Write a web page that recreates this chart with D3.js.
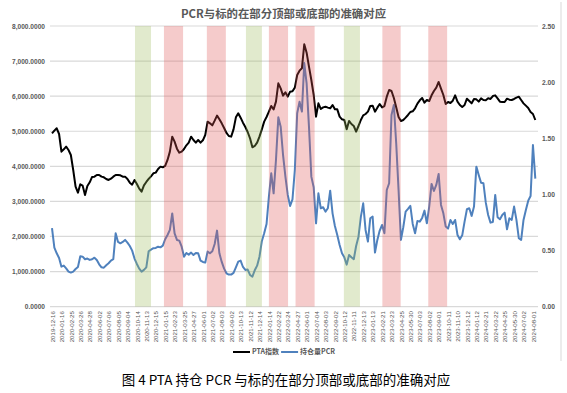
<!DOCTYPE html>
<html><head><meta charset="utf-8">
<script src="https://cdn.jsdelivr.net/npm/d3@7/dist/d3.min.js"></script>
<style>body{margin:0;background:#fff}svg{display:block}</style>
</head><body><div id="chart"></div>
<script>
const titleText = "PCR与标的在部分顶部或底部的准确对应";
const captionText = "图 4 PTA 持仓 PCR 与标的在部分顶部或底部的准确对应";
const seriesNames = ["PTA指数", "持仓量PCR"];

const tickDates = ["2019-12-16","2020-01-16","2020-02-25","2020-03-26","2020-04-28","2020-06-02","2020-07-06","2020-08-05","2020-09-04","2020-10-14","2020-11-13","2020-12-15","2021-01-15","2021-02-23","2021-03-25","2021-04-27","2021-06-01","2021-07-02","2021-08-03","2021-09-02","2021-10-13","2021-11-12","2021-12-14","2022-01-14","2022-02-22","2022-03-24","2022-04-27","2022-06-01","2022-07-04","2022-08-03","2022-09-02","2022-10-12","2022-11-11","2022-12-13","2023-01-13","2023-02-21","2023-03-23","2023-04-25","2023-05-30","2023-07-03","2023-08-02","2023-09-01","2023-10-11","2023-11-10","2023-12-12","2024-01-12","2024-02-21","2024-03-22","2024-04-25","2024-05-30","2024-07-02","2024-08-01"];

// samples: 4 readings per tick-label interval
const samplesPerLabel = 4;

const ptaIndex = [
4940,5016,5083,4921,4418,4484,4560,4465,4323,3895,
3420,3249,3487,3449,3183,3439,3544,3696,3705,3753,
3753,3705,3686,3639,3610,3648,3705,3753,3753,3743,
3705,3705,3639,3534,3477,3610,3496,3363,3278,3458,
3553,3639,3715,3800,3819,3924,3990,3971,4009,4180,
4418,4845,4703,4503,4389,4418,4494,4598,4674,4845,
4750,4674,4750,4674,4741,4893,5273,
5225,5168,5301,5444,5339,5225,5092,4950,4864,4845,
5054,5396,5510,5387,5244,5121,4978,4798,4541,4579,
4674,4845,5054,5273,5406,5558,5719,5624,5843,6366,
6223,6014,6109,5986,6128,6138,6242,6603,6727,6793,
7480,7240,6841,6461,6033,5415,5795,5634,5681,5700,
5672,5653,5748,5624,5624,5415,5339,5320,5054,5292,
5206,5149,4988,5149,
5320,5453,5491,5558,
5719,5729,5558,5672,5776,5681,5719,5985,6176,6147,
5948,5681,5406,5292,5320,5387,5463,5548,5567,5653,
5786,5881,5947,5814,5890,5862,6023,6147,6242,6404,
6214,6033,5776,5834,5805,5871,6023,5843,5748,5691,
5748,5928,5862,5795,5919,5909,5843,5938,5890,5881,
5938,5919,6004,6023,5938,5843,5834,5834,5928,5900,
5890,5919,5957,5985,5890,5795,5729,5662,5548,5491,5320];

const pcr = [
0.70,0.526,0.475,0.433,0.356,0.365,0.341,0.312,0.303,0.312,
0.335,0.353,0.448,0.445,0.422,0.428,0.416,0.422,0.436,0.416,
0.377,0.350,0.347,0.368,0.386,0.410,0.422,0.653,0.576,0.564,
0.576,0.594,0.570,0.540,0.499,0.428,0.380,0.338,0.312,0.327,
0.350,0.493,0.508,0.520,0.523,0.534,0.528,0.543,0.600,0.638,
0.683,0.830,0.653,0.594,0.588,0.534,0.445,0.478,0.463,0.481,
0.460,0.478,0.475,0.410,0.398,0.392,0.490,
0.475,0.493,0.558,0.677,0.475,0.398,0.338,0.297,0.285,0.285,
0.300,0.350,0.401,0.410,0.353,0.327,0.330,0.282,0.267,0.324,
0.365,0.445,0.582,0.653,0.736,0.980,1.188,1.009,1.306,1.686,
1.603,1.351,1.158,0.995,0.897,0.956,1.217,1.722,1.826,1.737,
2.170,1.989,1.603,1.158,1.063,0.742,1.009,0.876,0.885,0.846,
0.876,1.033,0.831,0.718,0.638,0.549,0.475,0.439,0.374,0.460,
0.439,0.422,0.540,0.623,
0.800,0.920,0.683,0.579,
0.787,0.802,0.481,0.594,0.677,0.727,0.653,1.039,1.099,1.707,
1.796,1.455,1.039,0.594,0.707,0.846,0.870,0.897,0.736,0.653,
0.763,0.757,0.790,0.855,0.742,0.891,1.093,1.030,1.084,1.182,
0.906,0.831,0.713,0.695,0.772,0.736,0.772,0.638,0.600,0.635,
0.757,0.867,0.876,0.808,0.891,1.247,1.173,1.104,1.099,0.926,
0.816,0.748,0.754,0.995,0.796,0.778,0.816,0.837,0.689,0.787,
0.772,0.891,0.772,0.609,0.594,0.772,0.861,0.944,0.986,1.440,1.140];

const redBands = [["2021-01-11","2021-03-22"],["2021-06-14","2021-08-16"],["2022-01-14","2022-03-25"],["2022-04-21","2022-06-29"],["2023-02-22","2023-04-24"],["2023-07-30","2023-10-07"]];
const greenBands = [["2020-10-06","2020-11-29"],["2021-10-30","2021-12-22"],["2022-10-10","2022-12-02"]];

const leftTicks = [0,1000,2000,3000,4000,5000,6000,7000,8000];
const rightTicks = [0,0.5,1,1.5,2,2.5];

// ---------- drawing ----------
const W = 567, H = 393;
const plot = {left: 50, right: 538, top: 26, bottom: 306.6};
const latin = "'Liberation Sans', Arial, 'Noto Sans CJK SC', sans-serif";
const cjk = "'Noto Sans CJK SC', 'Liberation Sans', sans-serif";
const grey = "#595959";

const svg = d3.select("#chart").append("svg").attr("width", W).attr("height", H);
svg.append("rect").attr("width", W).attr("height", H).attr("fill", "#fff");

const n = ptaIndex.length;
const x = d3.scaleLinear().domain([0, n - 1]).range([plot.left + 2, plot.right - 2.7]);
const yL = d3.scaleLinear().domain([0, 8000]).range([plot.bottom, plot.top]);
const yR = d3.scaleLinear().domain([0, 2.5]).range([plot.bottom, plot.top]);

// gridlines
svg.append("g").selectAll("line").data(leftTicks).join("line")
  .attr("x1", plot.left).attr("x2", plot.right)
  .attr("y1", d => yL(d)).attr("y2", d => yL(d))
  .attr("stroke", "#d9d9d9").attr("stroke-width", 1.2);

// axes labels
const gL = svg.append("g").attr("transform", `translate(${plot.left - 5},0)`)
  .call(d3.axisLeft(yL).tickValues(leftTicks).tickFormat(d3.format(",.4f")).tickSize(0).tickPadding(0));
gL.select(".domain").remove();
gL.selectAll("text").attr("fill", grey).style("font-family", latin).style("font-size", "6.6px").style("font-weight", "bold");

const gR = svg.append("g").attr("transform", `translate(${plot.right + 4},0)`)
  .call(d3.axisRight(yR).tickValues(rightTicks).tickFormat(d3.format(".2f")).tickSize(0).tickPadding(0));
gR.select(".domain").remove();
gR.selectAll("text").attr("fill", grey).style("font-family", latin).style("font-size", "6.7px").style("font-weight", "bold");

const tickIdx = tickDates.map((d, i) => i * samplesPerLabel);
const gX = svg.append("g").attr("transform", `translate(0,${plot.bottom})`)
  .call(d3.axisBottom(x).tickValues(tickIdx).tickFormat((d, i) => tickDates[i]).tickSize(0));
gX.select(".domain").remove();
gX.selectAll("text")
  .attr("transform", "rotate(-90)").attr("text-anchor", "end")
  .attr("x", -4.5).attr("y", 0).attr("dy", "0.35em")
  .attr("fill", grey).style("font-family", latin).style("font-size", "6.1px");

// lines
const lineL = d3.line().x((d, i) => x(i)).y(d => yL(d));
const lineR = d3.line().x((d, i) => x(i)).y(d => yR(d));
svg.append("path").datum(pcr).attr("d", lineR).attr("fill", "none")
  .attr("stroke", "#4f81bd").attr("stroke-width", 2).attr("stroke-linejoin", "round");
svg.append("path").datum(ptaIndex).attr("d", lineL).attr("fill", "none")
  .attr("stroke", "#000").attr("stroke-width", 2).attr("stroke-linejoin", "round");

// bands (translucent, above lines)
const tdates = tickDates.map(d => new Date(d + "T00:00:00Z").getTime());
function dateToSample(ds) {
  const t = new Date(ds + "T00:00:00Z").getTime();
  let k = 0;
  while (k < tdates.length - 2 && t >= tdates[k + 1]) k++;
  const frac = (t - tdates[k]) / (tdates[k + 1] - tdates[k]);
  return (k + frac) * samplesPerLabel;
}
function drawBands(bands, color) {
  svg.append("g").selectAll("rect").data(bands).join("rect")
    .attr("x", d => x(dateToSample(d[0])))
    .attr("width", d => x(dateToSample(d[1])) - x(dateToSample(d[0])))
    .attr("y", plot.top).attr("height", plot.bottom - plot.top)
    .attr("fill", color).attr("fill-opacity", 0.3);
}
drawBands(redBands, "rgb(222,82,82)");
drawBands(greenBands, "rgb(155,187,89)");

// title
svg.append("text").attr("x", 283.5).attr("y", 17.5).attr("text-anchor", "middle")
  .attr("fill", grey).style("font-family", cjk).style("font-size", "11.4px").style("font-weight", "bold")
  .text(titleText);

// legend
const lg = svg.append("g").attr("transform", "translate(233,352)");
let cx = 0;
const legendColors = ["#000", "#4f81bd"];
seriesNames.forEach((name, i) => {
  lg.append("line").attr("x1", cx).attr("x2", cx + 17).attr("y1", 0).attr("y2", 0)
    .attr("stroke", legendColors[i]).attr("stroke-width", 2);
  const t = lg.append("text").attr("x", cx + 19).attr("y", 0).attr("dy", "0.35em")
    .attr("fill", grey).style("font-family", cjk).style("font-size", "7px").style("font-weight", "bold")
    .text(name);
  cx += 19 + t.node().getComputedTextLength() + 2;
});

// chart border (right edge)
svg.append("line").attr("x1", 561).attr("x2", 561).attr("y1", 2).attr("y2", 361)
  .attr("stroke", "#d9d9d9").attr("stroke-width", 1);

// caption
svg.append("text").attr("x", 286).attr("y", 385).attr("text-anchor", "middle")
  .attr("fill", "#000").style("font-family", cjk).style("font-size", "13.5px")
  .text(captionText);
</script>
</body></html>
